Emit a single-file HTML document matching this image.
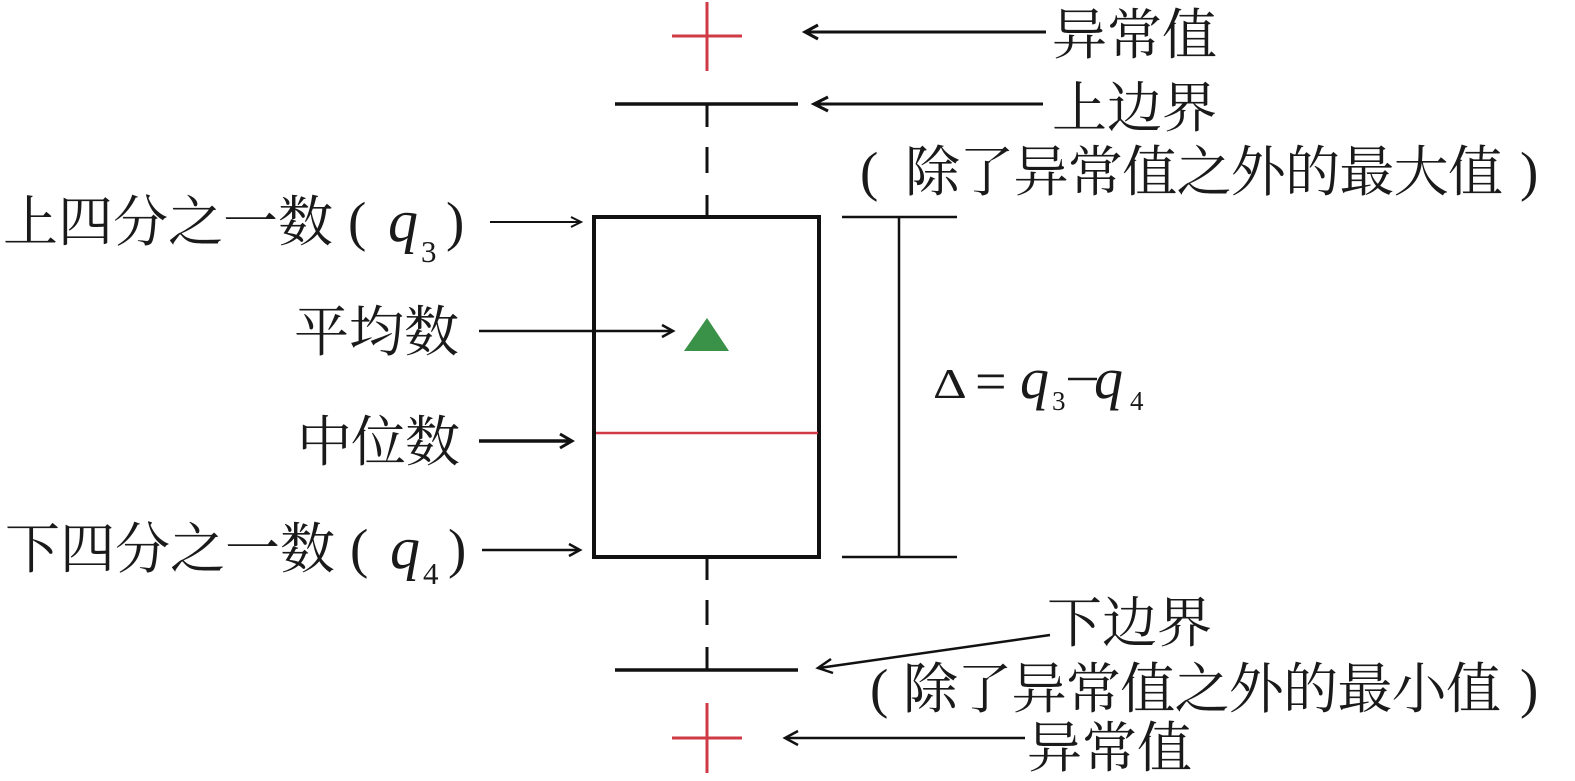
<!DOCTYPE html>
<html>
<head>
<meta charset="utf-8">
<style>
  html, body { margin: 0; padding: 0; background: #ffffff; }
  body { width: 1575px; height: 781px; overflow: hidden; }
  svg { display: block; }
  .cjk { font-family: "Liberation Serif", "Noto Serif CJK SC", serif; font-size: 55px; fill: #1a1a1a; }
  .lat { font-family: "Liberation Serif", serif; fill: #1a1a1a; }
</style>
</head>
<body>
<svg width="1575" height="781" viewBox="0 0 1575 781" xmlns="http://www.w3.org/2000/svg">
  <rect x="0" y="0" width="1575" height="781" fill="#ffffff"/>

  <!-- Red outlier markers -->
  <g stroke="#cf3a46" stroke-width="3" fill="none">
    <line x1="707" y1="2" x2="707" y2="71"/>
    <line x1="672" y1="36" x2="742" y2="36"/>
    <line x1="707" y1="703" x2="707" y2="773"/>
    <line x1="672" y1="738" x2="742" y2="738"/>
  </g>

  <!-- Whiskers -->
  <g stroke="#111" stroke-width="3.5" fill="none">
    <line x1="615" y1="104" x2="798" y2="104"/>
    <line x1="615" y1="670" x2="798" y2="670"/>
  </g>
  <g stroke="#111" stroke-width="3" fill="none">
    <line x1="707" y1="104" x2="707" y2="127"/>
    <line x1="707" y1="147" x2="707" y2="173"/>
    <line x1="707" y1="195" x2="707" y2="217"/>
    <line x1="707" y1="557" x2="707" y2="580"/>
    <line x1="707" y1="600" x2="707" y2="625"/>
    <line x1="707" y1="647" x2="707" y2="670"/>
  </g>

  <!-- Box -->
  <rect x="594" y="217" width="225" height="340" fill="none" stroke="#111" stroke-width="4"/>
  <line x1="596" y1="433" x2="818" y2="433" stroke="#cf3a46" stroke-width="2.5"/>
  <polygon points="707,318 684,351 729,351" fill="#3a9148"/>

  <!-- Range bracket -->
  <g stroke="#111" stroke-width="2.5" fill="none">
    <line x1="842" y1="217" x2="957" y2="217"/>
    <line x1="842" y1="557" x2="957" y2="557"/>
    <line x1="899" y1="217" x2="899" y2="557"/>
  </g>

  <!-- Arrows -->
  <g stroke="#111" fill="none" stroke-linecap="butt" stroke-linejoin="miter">
    <line x1="1046" y1="32" x2="806" y2="32" stroke-width="3"/>
    <polyline points="818,25 805,32 818,39" stroke-width="3"/>

    <line x1="1043" y1="104" x2="815" y2="104" stroke-width="3"/>
    <polyline points="828,97 814,104 828,111" stroke-width="3"/>

    <line x1="1050" y1="635" x2="819" y2="668" stroke-width="2.5"/>
    <polyline points="833,673 818,668 831,659" stroke-width="2.5"/>

    <line x1="1025" y1="738" x2="786" y2="738" stroke-width="2.5"/>
    <polyline points="798,731 785,738 798,745" stroke-width="2.5"/>

    <line x1="490" y1="222" x2="580" y2="222" stroke-width="2"/>
    <polyline points="571,217 581,222 571,227" stroke-width="2"/>

    <line x1="479" y1="331" x2="672" y2="331" stroke-width="2.5"/>
    <polyline points="662,325 673,331 662,337" stroke-width="2.5"/>

    <line x1="479" y1="441" x2="571" y2="441" stroke-width="3.5"/>
    <polyline points="560,434 572,441 560,448" stroke-width="3"/>

    <line x1="482" y1="550" x2="579" y2="550" stroke-width="2.5"/>
    <polyline points="569,544 580,550 569,556" stroke-width="2.5"/>
  </g>

  <!-- Right labels -->
  <text class="cjk" x="1052" y="54" textLength="165" lengthAdjust="spacing">异常值</text>
  <text class="cjk" x="1052" y="127" textLength="165" lengthAdjust="spacing">上边界</text>
  <text class="lat" x="860" y="190" font-size="55">(</text>
  <text class="cjk" x="905" y="191" textLength="598" lengthAdjust="spacing">除了异常值之外的最大值</text>
  <text class="lat" x="1520" y="190" font-size="55">)</text>

  <text class="cjk" x="1047" y="642" textLength="165" lengthAdjust="spacing">下边界</text>
  <text class="lat" x="870" y="707" font-size="55">(</text>
  <text class="cjk" x="903" y="708" textLength="598" lengthAdjust="spacing">除了异常值之外的最小值</text>
  <text class="lat" x="1520" y="707" font-size="55">)</text>
  <text class="cjk" x="1027" y="767" textLength="165" lengthAdjust="spacing">异常值</text>

  <!-- Left labels -->
  <text class="cjk" x="3" y="241" textLength="330" lengthAdjust="spacing">上四分之一数</text>
  <text class="lat" x="348" y="240" font-size="55">(</text>
  <text class="lat" x="388" y="241" font-size="60" font-style="italic">q</text>
  <text class="lat" x="421" y="262" font-size="31">3</text>
  <text class="lat" x="446" y="240" font-size="55">)</text>

  <text class="cjk" x="294" y="351" textLength="165" lengthAdjust="spacing">平均数</text>
  <text class="cjk" x="297" y="461" textLength="163" lengthAdjust="spacing">中位数</text>

  <text class="cjk" x="5" y="568" textLength="330" lengthAdjust="spacing">下四分之一数</text>
  <text class="lat" x="350" y="567" font-size="55">(</text>
  <text class="lat" x="390" y="568" font-size="60" font-style="italic">q</text>
  <text class="lat" x="423" y="584" font-size="31">4</text>
  <text class="lat" x="448" y="567" font-size="55">)</text>

  <!-- Formula -->
  <text class="lat" x="0" y="0" font-size="42" transform="translate(933,398) scale(1.25,1)">Δ</text>
  <text class="lat" x="975" y="400" font-size="56">=</text>
  <text class="lat" x="1020" y="398" font-size="58" font-style="italic">q</text>
  <text class="lat" x="1052" y="410" font-size="27">3</text>
  <line x1="1068" y1="379" x2="1097" y2="379" stroke="#1a1a1a" stroke-width="2.5"/>
  <text class="lat" x="1094" y="398" font-size="58" font-style="italic">q</text>
  <text class="lat" x="1130" y="410" font-size="27">4</text>
</svg>
</body>
</html>
